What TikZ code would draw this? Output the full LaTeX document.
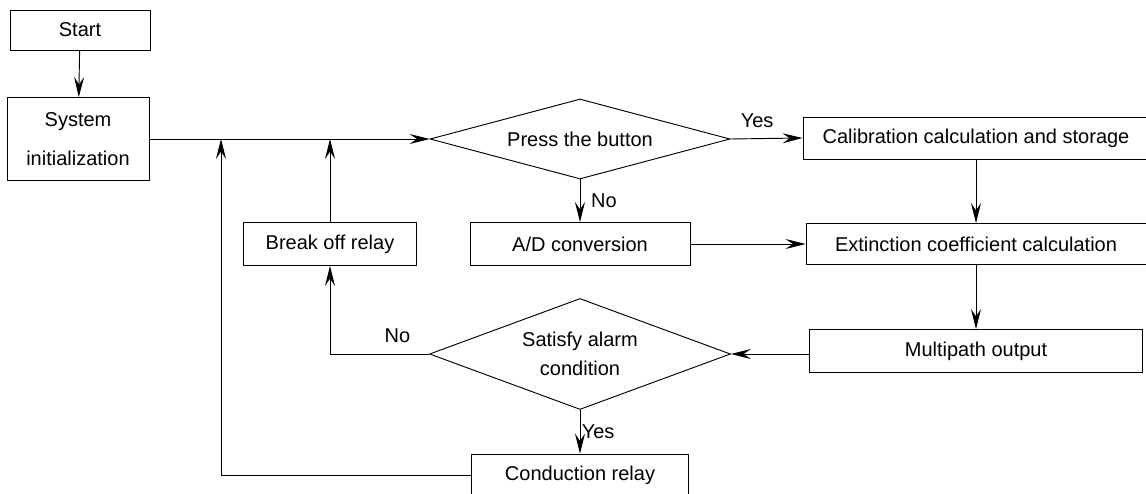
\documentclass[tikz,border=0pt]{standalone}
\usepackage{fontspec}
\setmainfont{Liberation Sans}
\usepackage{tikz}
\usetikzlibrary{positioning,shapes.geometric,arrows.meta}

\begin{document}
\begin{tikzpicture}[x=0.75pt,y=-0.75pt,line width=0.7pt,>={Stealth[length=15pt,width=7.5pt,inset=5.5pt]},
  font=\fontsize{15}{18}\selectfont]%[scale=2.5]
\useasboundingbox (0,0) rectangle (1146,493);
\tikzstyle{box}=[draw,rectangle,inner sep=0pt,align=center,minimum height=31.5pt];
\tikzstyle{decision}=[draw,diamond,inner sep=0pt,align=center];
\tikzstyle{lbl}=[inner sep=2pt];

\node[box,minimum width=105pt,minimum height=30pt] (start) at (80,30) {Start};
\node[box,minimum width=106.5pt,minimum height=62.25pt] (init) at (78,139) {System\\[11pt]initialization};
\node[decision,aspect=3.75,minimum width=225pt,minimum height=60pt] (press) at (580,139) {Press the button};
\node[box,minimum width=259.5pt] (calib) at (976,138) {Calibration calculation and storage};
\node[box,minimum width=255pt,minimum height=30.75pt] (ext) at (976,244) {Extinction coefficient calculation};
\node[box,minimum width=165pt,minimum height=32.25pt] (ad) at (580,244) {A/D conversion};
\node[box,minimum width=129.75pt,minimum height=32.25pt] (brk) at (330,244) {Break off relay};
\node[box,minimum width=249.75pt,minimum height=32.25pt] (multi) at (976,351) {Multipath output};
\node[decision,aspect=2.71,minimum width=225.75pt,minimum height=83.25pt] (alarm) at (580,354) {Satisfy alarm\\[4pt]condition};
\node[box,minimum width=162.75pt] (cond) at (580,475) {Conduction relay};

\coordinate (j1) at (221,139);
\coordinate (j2) at (330,139);

\draw[->] (start) -- (init);
\draw[->] (init.east) -- (press.west);
\draw[->] (press.east) -- node[lbl,above,pos=.37,yshift=6pt] {Yes} (calib.west);
\draw[->] (press.south) -- node[lbl,right,xshift=6pt] {No} (ad.north);
\draw[->] (calib) -- (ext);
\draw[->] (ad.east) -- (ad.east -| ext.west);
\draw[->] (ext) -- (multi);
\draw[->] (multi.west |- alarm.east) -- (alarm.east);
\draw[->] (alarm.west) -| node[lbl,above,pos=.16,yshift=6pt] {No} (brk.south);
\draw[->] (alarm.south) -- node[lbl,right,inner sep=1pt] {Yes} (cond.north);
\draw[->] (brk.north) -- (j2);
\draw[->] (cond.west) -| (j1);
\end{tikzpicture}
\end{document}
